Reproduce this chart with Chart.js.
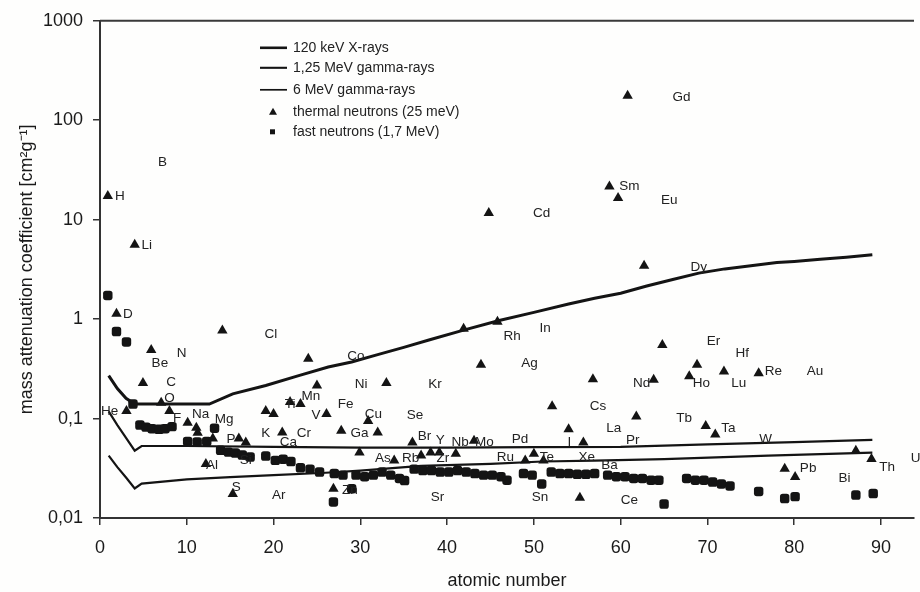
<!DOCTYPE html>
<html>
<head>
<meta charset="utf-8">
<title>Mass attenuation coefficient vs atomic number</title>
<script src="https://cdn.jsdelivr.net/npm/chart.js@4.4.1/dist/chart.umd.min.js"></script>
<style>
  html, body { margin: 0; padding: 0; background: #fefefd; }
  #wrap { width: 920px; height: 592px; }
</style>
</head>
<body>
<div id="wrap"><canvas id="attChart" width="920" height="592"></canvas></div>
<script>
// photon curves: atomic number -> mass attenuation coefficient [cm2/g]
const xrayZ = [1, 2, 3, 4, 6, 8, 10, 12.6, 15.3, 19.1, 22.9, 26.3, 29, 32, 35, 38, 42, 46, 50, 54, 57, 60, 63, 66, 69, 72, 75, 78, 80, 83, 86, 89];
const xrayV = [0.27, 0.2, 0.16, 0.14, 0.14, 0.14, 0.14, 0.14, 0.177, 0.215, 0.27, 0.33, 0.37, 0.44, 0.52, 0.62, 0.78, 0.97, 1.17, 1.42, 1.62, 1.82, 2.15, 2.5, 2.9, 3.2, 3.45, 3.7, 3.8, 4.0, 4.2, 4.45];

const gamma125Z = [1, 2, 3, 4, 4.8, 10, 20, 30, 40, 50, 60, 70, 80, 89];
const gamma125V = [0.118, 0.086, 0.064, 0.0475, 0.053, 0.053, 0.052, 0.051, 0.051, 0.0515, 0.052, 0.055, 0.058, 0.061];

const gamma6Z = [1, 2, 3, 4, 4.8, 10, 15, 20, 26, 30, 37, 45, 51, 57, 65, 77, 89];
const gamma6V = [0.0424, 0.0325, 0.0255, 0.0198, 0.0222, 0.0245, 0.0258, 0.027, 0.0285, 0.030, 0.0335, 0.035, 0.037, 0.0378, 0.039, 0.0424, 0.0454];

// thermal neutrons (25 meV)
const thermalZ = [0.9, 1.9, 3.05, 4.0, 4.95, 5.9, 7.05, 8.0, 10.1, 11.1, 11.25, 12.2, 13.0, 14.1, 15.3, 16.0, 16.8, 19.1, 20.0, 21.0,
  21.9, 23.1, 24.0, 25.0, 26.1, 26.9, 27.8, 29.9, 30.9, 32.0, 33.0, 33.9, 36.0, 37.0, 38.1, 39.1, 41.0, 41.9, 43.1, 43.9,
  44.8, 45.8, 49.0, 50.0, 51.1, 52.1, 54.0, 55.3, 55.7, 56.8, 58.7, 59.7, 60.8, 61.8, 62.7, 63.8, 64.8, 67.9, 68.8, 69.8,
  70.9, 71.9, 75.9, 78.9, 80.1, 87.1, 88.9];
const thermalV = [17.3, 1.13, 0.119, 5.6, 0.228, 0.49, 0.144, 0.119, 0.091, 0.081, 0.072, 0.035, 0.063, 0.77, 0.0174, 0.063, 0.0575, 0.119, 0.111, 0.0724,
  0.147, 0.140, 0.40, 0.215, 0.111, 0.0197, 0.0752, 0.0457, 0.0946, 0.0724, 0.228, 0.0378, 0.0575, 0.0424, 0.0457, 0.0457, 0.0442, 0.80, 0.0598, 0.347,
  11.7, 0.94, 0.0378, 0.0442, 0.0378, 0.133, 0.078, 0.016, 0.0575, 0.248, 21.5, 16.5, 176, 0.105, 3.44, 0.246, 0.55, 0.266, 0.347, 0.084,
  0.069, 0.298, 0.286, 0.0313, 0.0258, 0.0475, 0.0393];

// fast neutrons (1,7 MeV)
const fastZ = [0.9, 1.9, 3.05, 3.8, 4.6, 5.3, 6.0, 6.8, 7.5, 8.3, 10.1, 11.2, 12.3, 13.2, 13.9, 14.8, 15.6, 16.4, 17.3, 19.1,
  20.2, 21.1, 22.0, 23.1, 24.2, 25.3, 26.9, 27.0, 28.0, 29.0, 29.5, 30.5, 31.5, 32.5, 33.5, 34.5, 35.1, 36.2, 37.2, 38.2,
  39.2, 40.2, 41.2, 42.2, 43.2, 44.2, 45.2, 46.2, 46.9, 48.8, 49.8, 50.9, 52.0, 53.0, 54.0, 55.0, 56.0, 57.0, 58.5, 59.5,
  60.5, 61.5, 62.5, 63.5, 64.4, 65.0, 67.6, 68.6, 69.6, 70.6, 71.6, 72.6, 75.9, 78.9, 80.1, 87.1, 89.1];
const fastV = [1.73, 0.75, 0.59, 0.14, 0.086, 0.082, 0.079, 0.078, 0.079, 0.083, 0.059, 0.058, 0.059, 0.080, 0.048, 0.046, 0.045, 0.043, 0.041, 0.042,
  0.038, 0.039, 0.037, 0.032, 0.031, 0.029, 0.0145, 0.028, 0.027, 0.0197, 0.027, 0.026, 0.027, 0.029, 0.027, 0.025, 0.0238, 0.031, 0.030, 0.030,
  0.029, 0.029, 0.030, 0.029, 0.028, 0.027, 0.027, 0.026, 0.024, 0.028, 0.027, 0.022, 0.029, 0.028, 0.028, 0.0275, 0.0275, 0.028, 0.027, 0.026,
  0.026, 0.025, 0.025, 0.024, 0.024, 0.0138, 0.025, 0.024, 0.024, 0.023, 0.022, 0.021, 0.0185, 0.0157, 0.0164, 0.0170, 0.0176];

// element symbols as printed in the plot (atomic-number position, coefficient position)
const elemNames = ['H', 'Li', 'B', 'D', 'Be', 'N', 'C', 'O', 'F', 'He', 'Na', 'Mg', 'P', 'Si', 'Al', 'S', 'Ar', 'K', 'Ca', 'Cr',
  'Ti', 'Mn', 'V', 'Fe', 'Cl', 'Co', 'Ni', 'Cu', 'Ga', 'Zn', 'Kr', 'Se', 'Br', 'Y', 'Nb', 'Mo', 'As', 'Rb', 'Zr', 'Sr',
  'Pd', 'Ru', 'Te', 'I', 'Xe', 'Sn', 'Cd', 'Rh', 'In', 'Ag', 'Cs', 'La', 'Pr', 'Ba', 'Ce', 'Nd', 'Sm', 'Eu', 'Gd', 'Dy',
  'Er', 'Hf', 'Ho', 'Lu', 'Re', 'Au', 'Tb', 'Ta', 'W', 'Pb', 'Bi', 'Th', 'U'];
const elemZ = [2.3, 5.4, 7.2, 3.2, 6.9, 9.4, 8.2, 8.0, 8.9, 1.1, 11.6, 14.3, 15.1, 16.8, 12.9, 15.7, 20.6, 19.1, 21.7, 23.5,
  21.9, 24.3, 24.9, 28.3, 19.7, 29.5, 30.1, 31.5, 29.9, 28.8, 38.6, 36.3, 37.4, 39.2, 41.5, 44.3, 32.6, 35.8, 39.5, 38.9,
  48.4, 46.7, 51.5, 54.1, 56.1, 50.7, 50.9, 47.5, 51.3, 49.5, 57.4, 59.2, 61.4, 58.7, 61.0, 62.4, 61.0, 65.6, 67.0, 69.0,
  70.7, 74.0, 69.3, 73.6, 77.6, 82.4, 67.3, 72.4, 76.7, 81.6, 85.8, 90.7, 94.0];
const elemV = [17.3, 5.48, 37.7, 1.13, 0.358, 0.45, 0.232, 0.160, 0.101, 0.119, 0.111, 0.099, 0.0626, 0.0378, 0.0337, 0.0204, 0.0169, 0.0703, 0.0571, 0.0703,
  0.138, 0.168, 0.107, 0.140, 0.71, 0.42, 0.222, 0.111, 0.0703, 0.019, 0.222, 0.107, 0.067, 0.0598, 0.0571, 0.0571, 0.0396, 0.0396, 0.0396, 0.0162,
  0.0626, 0.0405, 0.0405, 0.0571, 0.0405, 0.0162, 11.7, 0.665, 0.80, 0.358, 0.133, 0.0806, 0.0598, 0.0337, 0.0151, 0.227, 21.7, 15.7, 171, 3.31,
  0.593, 0.45, 0.227, 0.227, 0.298, 0.298, 0.101, 0.0806, 0.0626, 0.0315, 0.025, 0.0322, 0.040];

const xTicks = [0, 10, 20, 30, 40, 50, 60, 70, 80, 90];
const yTicks = [0.01, 0.1, 1, 10, 100, 1000];
const yTickLabels = ['0,01', '0,1', '1', '10', '100', '1000'];
const seriesNames = ['120 keV X-rays', '1,25 MeV gamma-rays', '6 MeV gamma-rays', 'thermal neutrons (25 meV)', 'fast neutrons (1,7 MeV)'];

const INK = '#141414';
const FONT = '"Liberation Sans", Arial, sans-serif';

function toPoints(xs, ys) {
  return xs.map((x, i) => ({ x: x, y: ys[i] }));
}

function lineSet(label, xs, ys, width) {
  return {
    label: label,
    data: toPoints(xs, ys),
    showLine: true,
    borderColor: INK,
    borderWidth: width,
    pointRadius: 0,
    tension: 0,
    order: 2
  };
}

// element symbols next to the markers
const elementLabels = {
  id: 'elementLabels',
  afterDatasetsDraw(chart) {
    const { ctx, scales: { x, y } } = chart;
    ctx.save();
    ctx.font = '13.5px ' + FONT;
    ctx.fillStyle = '#222';
    ctx.textAlign = 'center';
    ctx.textBaseline = 'middle';
    elemNames.forEach((name, i) => {
      ctx.fillText(name, x.getPixelForValue(elemZ[i]), y.getPixelForValue(elemV[i]));
    });
    ctx.restore();
  }
};

// legend box inside the plot + top frame line
const insideLegend = {
  id: 'insideLegend',
  afterDraw(chart) {
    const { ctx, chartArea: a } = chart;
    ctx.save();
    ctx.strokeStyle = '#3a3a3a';
    ctx.lineWidth = 2;
    ctx.beginPath();
    ctx.moveTo(a.left, a.top);
    ctx.lineTo(a.right, a.top);
    ctx.stroke();

    const x0 = a.left + 160, x1 = a.left + 187, tx = a.left + 193;
    const rows = [a.top + 27, a.top + 47, a.top + 69, a.top + 91, a.top + 111];
    const widths = [2.6, 2.1, 1.7];
    ctx.font = '14px ' + FONT;
    ctx.textBaseline = 'middle';
    seriesNames.forEach((name, i) => {
      const yy = rows[i];
      if (i < 3) {
        ctx.strokeStyle = INK;
        ctx.lineWidth = widths[i];
        ctx.beginPath();
        ctx.moveTo(x0, yy);
        ctx.lineTo(x1, yy);
        ctx.stroke();
      } else if (i === 3) {
        ctx.fillStyle = INK;
        ctx.beginPath();
        ctx.moveTo(x0 + 13, yy - 4);
        ctx.lineTo(x0 + 17, yy + 3);
        ctx.lineTo(x0 + 9, yy + 3);
        ctx.closePath();
        ctx.fill();
      } else {
        ctx.fillStyle = INK;
        ctx.fillRect(x0 + 10, yy - 2.5, 5, 5);
      }
      ctx.fillStyle = '#222';
      ctx.fillText(name, tx, yy);
    });
    ctx.restore();
  }
};

const config = {
  type: 'scatter',
  data: {
    datasets: [
      {
        label: seriesNames[3],
        data: toPoints(thermalZ, thermalV),
        pointStyle: 'triangle',
        pointRadius: 6,
        backgroundColor: INK,
        borderColor: INK,
        borderWidth: 0,
        order: 0
      },
      {
        label: seriesNames[4],
        data: toPoints(fastZ, fastV),
        pointStyle: 'rectRounded',
        pointRadius: 5.5,
        backgroundColor: INK,
        borderColor: INK,
        borderWidth: 0,
        order: 1
      },
      lineSet(seriesNames[0], xrayZ, xrayV, 3),
      lineSet(seriesNames[1], gamma125Z, gamma125V, 2.2),
      lineSet(seriesNames[2], gamma6Z, gamma6V, 2.2)
    ]
  },
  options: {
    responsive: false,
    animation: false,
    devicePixelRatio: 1,
    layout: { padding: { top: 16, right: 0, bottom: 0, left: 0 } },
    plugins: {
      legend: { display: false },
      tooltip: { enabled: false }
    },
    scales: {
      x: {
        type: 'linear',
        min: 0,
        max: 93.8,
        afterFit: (s) => { s.height = 74; },
        afterBuildTicks: (s) => { s.ticks = xTicks.map(v => ({ value: v })); },
        ticks: { color: '#1a1a1a', font: { family: FONT, size: 18 }, padding: 12, maxRotation: 0 },
        grid: { drawOnChartArea: false, drawTicks: true, tickLength: 7, color: '#333', lineWidth: 1.5 },
        border: { display: true, color: '#333', width: 2 },
        title: { display: true, text: 'atomic number', color: '#1a1a1a', font: { family: FONT, size: 18 }, padding: { top: 0, bottom: 0 } }
      },
      y: {
        type: 'logarithmic',
        min: 0.01,
        max: 1000,
        afterFit: (s) => { s.width = 100; },
        afterBuildTicks: (s) => { s.ticks = yTicks.map(v => ({ value: v })); },
        ticks: {
          color: '#1a1a1a',
          font: { family: FONT, size: 18 },
          padding: 10,
          callback: (value, index) => yTickLabels[index]
        },
        grid: { drawOnChartArea: false, drawTicks: true, tickLength: 7, color: '#333', lineWidth: 1.5 },
        border: { display: true, color: '#333', width: 2 },
        title: { display: true, text: 'mass attenuation coefficient [cm²g⁻¹]', color: '#1a1a1a', font: { family: FONT, size: 18 }, padding: { top: 16, bottom: 0 } }
      }
    }
  },
  plugins: [elementLabels, insideLegend]
};

const attChart = new Chart(document.getElementById('attChart'), config);
</script>
</body>
</html>
